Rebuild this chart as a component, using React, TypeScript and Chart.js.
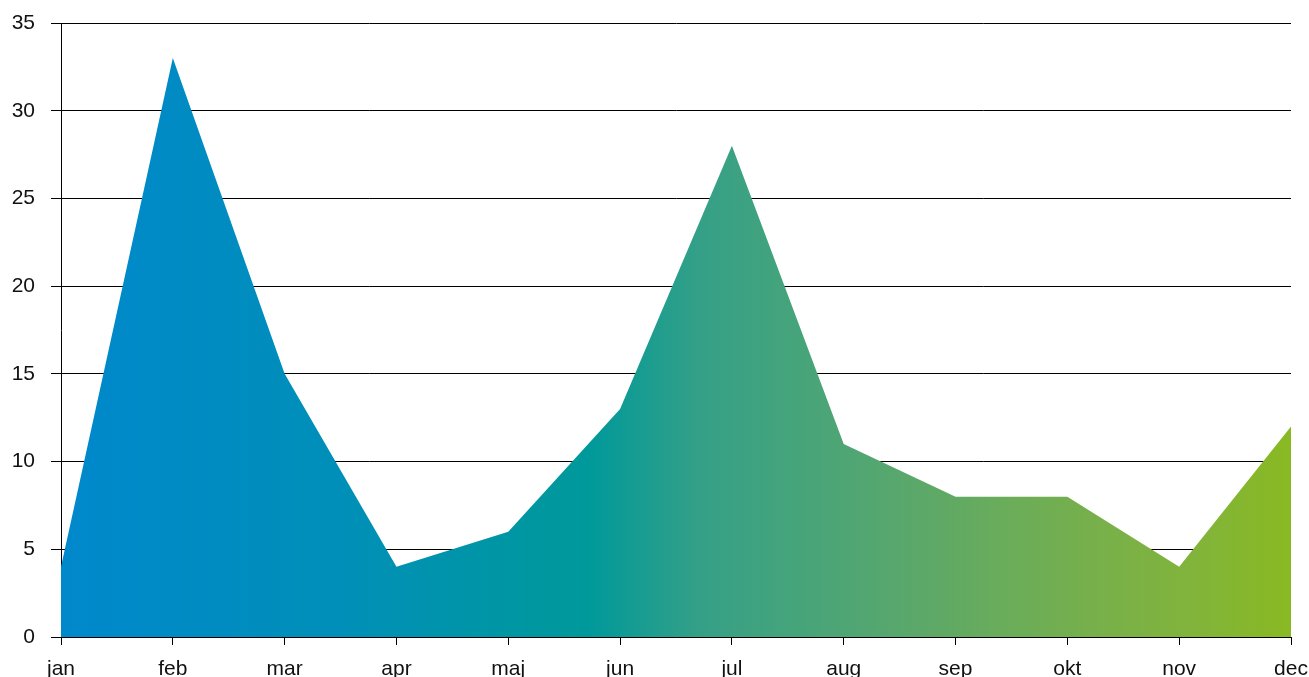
import React, { useEffect, useRef } from "react";
import { Chart, registerables } from "chart.js";

Chart.register(...registerables);

const categories = ["jan", "feb", "mar", "apr", "maj", "jun", "jul", "aug", "sep", "okt", "nov", "dec"];
const values = [4, 33, 15, 4, 6, 13, 28, 11, 8, 8, 4, 12];
const gradientStops: [number, string][] = [
  [0, "#0088cc"],
  [0.227, "#008fb8"],
  [0.43, "#00999a"],
  [0.52, "#35a087"],
  [0.6, "#46a47a"],
  [0.68, "#58a76d"],
  [0.763, "#69ac5b"],
  [0.845, "#78b04a"],
  [0.926, "#82b43a"],
  [1, "#89b922"],
];

const CANVAS_W = 1309;
const CANVAS_H = 700;
const FONT = { family: "Liberation Sans, Arial, Helvetica, sans-serif", size: 21 };

export default function App() {
  const ref = useRef<HTMLCanvasElement | null>(null);
  useEffect(() => {
    document.documentElement.style.overflow = "hidden";
    document.body.style.margin = "0";
    document.body.style.overflow = "hidden";
    const ctx = ref.current!.getContext("2d")!;
    const chart = new Chart(ctx, {
      type: "line",
      data: {
        labels: categories,
        datasets: [
          {
            data: values,
            fill: "origin",
            borderWidth: 0,
            pointRadius: 0,
            tension: 0,
            backgroundColor: (c: any) => {
              const area = c.chart.chartArea;
              if (!area) return "#00999a";
              const g = c.chart.ctx.createLinearGradient(area.left, 0, area.right, 0);
              gradientStops.forEach(([o, col]) => g.addColorStop(o, col));
              return g;
            },
          },
        ],
      },
      options: {
        animation: false,
        responsive: false,
        devicePixelRatio: 1,
        layout: { padding: { left: 0, right: 18, top: 23, bottom: 0 } },
        plugins: { legend: { display: false }, tooltip: { enabled: false } },
        scales: {
          x: {
            offset: false,
            afterFit: (s: any) => {
              s.height = CANVAS_H - 637;
              s.paddingLeft = 0;
              s.paddingRight = 0;
            },
            grid: { display: true, drawOnChartArea: false, drawTicks: true, tickLength: 8, color: "#000", lineWidth: 1 },
            border: { display: true, color: "#000", width: 1 },
            ticks: { color: "#111", font: FONT, maxRotation: 0, autoSkip: false, padding: 12 },
          },
          y: {
            min: 0,
            max: 35,
            afterFit: (s: any) => {
              s.width = 61;
              s.paddingTop = 0;
              s.paddingBottom = 0;
            },
            ticks: { stepSize: 5, color: "#111", font: FONT, padding: 16 },
            grid: { color: "#000", lineWidth: 1, tickLength: 10, drawTicks: true },
            border: { display: true, color: "#000", width: 1 },
          },
        },
      },
    });
    return () => chart.destroy();
  }, []);
  return (
    <div style={{ position: "absolute", left: 0, top: 0, width: CANVAS_W, height: CANVAS_H }}>
      <canvas ref={ref} width={CANVAS_W} height={CANVAS_H} style={{ width: CANVAS_W, height: CANVAS_H, display: "block" }} />
    </div>
  );
}
